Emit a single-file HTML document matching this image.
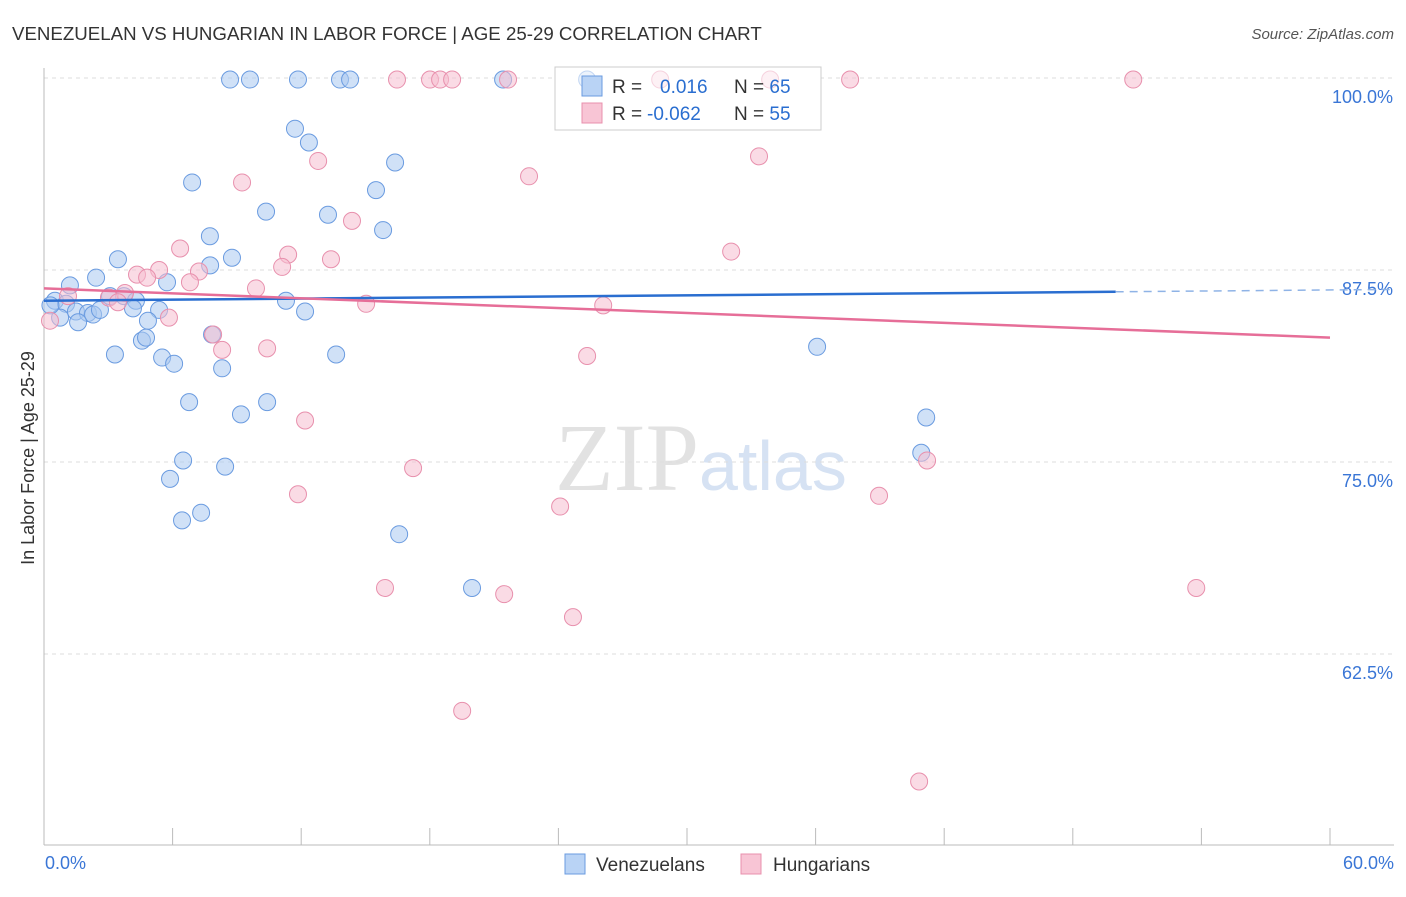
<!DOCTYPE html>
<html><head><meta charset="utf-8"><style>
body{margin:0;background:#fff;font-family:"Liberation Sans",sans-serif}
</style></head><body>
<svg id="chart" width="1406" height="892" xmlns="http://www.w3.org/2000/svg" font-family="Liberation Sans, sans-serif">
<text x="12" y="40" font-size="18.7" fill="#333">VENEZUELAN VS HUNGARIAN IN LABOR FORCE | AGE 25-29 CORRELATION CHART</text>
<text x="1394" y="39" font-size="15" fill="#555" font-style="italic" text-anchor="end">Source: ZipAtlas.com</text>
<text x="555" y="490" font-size="96" fill="#e2e2e2" font-family="Liberation Serif, serif">ZIP<tspan fill="#d6e2f3" font-family="Liberation Sans, sans-serif" font-size="70">atlas</tspan></text>
<g id="grid"></g><g id="axes"></g>
<rect x="555" y="67" width="266" height="63" fill="#fff" stroke="#ccc"/>
<g id="pts"></g><g id="trend"></g>
<text transform="translate(34,458) rotate(-90)" font-size="18" fill="#333" text-anchor="middle">In Labor Force | Age 25-29</text>
<g>
<rect x="555" y="67" width="266" height="63" fill="#fff" fill-opacity="0.6" stroke="#ccc"/>
<rect x="582" y="76" width="20" height="20" fill="#b9d3f5" stroke="#6a9be0"/>
<rect x="582" y="103" width="20" height="20" fill="#f8c5d5" stroke="#e890ad"/>
<text x="612" y="93" font-size="19" fill="#333">R =  <tspan fill="#2a6ed0" x="660">0.016</tspan><tspan x="734" fill="#333">N = </tspan><tspan fill="#2a6ed0">65</tspan></text>
<text x="612" y="120" font-size="19" fill="#333">R = <tspan fill="#2a6ed0" x="647">-0.062</tspan><tspan x="734" fill="#333">N = </tspan><tspan fill="#2a6ed0">55</tspan></text>
</g>
<g>
<rect x="565" y="854" width="20" height="20" fill="#b9d3f5" stroke="#6a9be0"/>
<text x="596" y="871" font-size="19" fill="#333">Venezuelans</text>
<rect x="741" y="854" width="20" height="20" fill="#f8c5d5" stroke="#e890ad"/>
<text x="773" y="871" font-size="19" fill="#333">Hungarians</text>
</g>
</svg>
<script>
const yTicks=[100,87.5,75,62.5];
const yTickLabels=["100.0%","87.5%","75.0%","62.5%"];
const xTickLabels=["0.0%","60.0%"];
const venX=[8.68,9.61,11.85,13.81,14.28,21.42,25.34,11.71,12.36,16.38,6.91,15.49,10.36,13.25,15.82,7.74,3.45,8.77,7.75,2.43,1.21,5.74,0.51,1.03,3.08,3.73,4.29,11.29,4.15,5.37,12.18,1.49,2.05,2.29,2.61,0.75,1.59,4.85,7.84,4.57,4.76,3.31,13.63,5.51,6.07,8.31,36.07,6.77,9.19,10.41,41.16,40.93,6.49,8.45,5.88,7.33,6.44,16.57,19.97,0.3];
const venY=[99.9,99.9,99.9,99.9,99.9,99.9,99.9,96.7,95.8,94.5,93.2,92.7,91.3,91.1,90.1,89.7,88.2,88.3,87.8,87.0,86.5,86.7,85.5,85.3,85.8,85.8,85.5,85.5,85.0,84.9,84.8,84.8,84.7,84.6,84.9,84.4,84.1,84.2,83.3,82.9,83.1,82.0,82.0,81.8,81.4,81.1,82.5,78.9,78.1,78.9,77.9,75.6,75.1,74.7,73.9,71.7,71.2,70.3,66.8,85.2];
const hunX=[16.47,18.01,18.48,19.04,21.65,28.75,33.88,37.61,50.82,33.36,12.79,22.63,9.24,14.37,6.35,32.06,11.39,13.39,11.11,5.37,7.23,4.34,4.81,6.81,9.89,3.78,3.03,1.12,3.45,15.03,26.09,5.83,0.28,7.89,8.31,10.41,25.34,12.18,17.22,41.2,11.85,38.96,24.08,15.91,21.47,53.76,24.68,19.51,40.83];
const hunY=[99.9,99.9,99.9,99.9,99.9,99.9,99.9,99.9,99.9,94.9,94.6,93.6,93.2,90.7,88.9,88.7,88.5,88.2,87.7,87.5,87.4,87.2,87.0,86.7,86.3,86.0,85.7,85.8,85.4,85.3,85.2,84.4,84.2,83.3,82.3,82.4,81.9,77.7,74.6,75.1,72.9,72.8,72.1,66.8,66.4,66.8,64.9,58.8,54.2];
const venTrend=[85.5,86.2];
const hunTrend=[86.3,83.1];
const NS="http://www.w3.org/2000/svg";
const X=v=>44+v*1286/60, Y=v=>78+(100-v)*192/12.5;
function mk(t,a,p){const e=document.createElementNS(NS,t);for(const k in a)e.setAttribute(k,a[k]);p.appendChild(e);return e;}
const g=document.getElementById('grid'),ax=document.getElementById('axes'),pts=document.getElementById('pts'),tr=document.getElementById('trend');
yTicks.forEach((t,i)=>{
 const l=mk('line',{x1:44,x2:1394,y1:Y(t),y2:Y(t),stroke:'#ddd','stroke-dasharray':'4,4'},g);
 
 
 const tx=mk('text',{x:1393,y:Y(t)+25,'font-size':18,fill:'#3a76d6','text-anchor':'end'},g);
 tx.textContent=yTickLabels[i];
 
 
});
const xa=mk('line',{x1:44,x2:1394,y1:845,y2:845,stroke:'#bbb'},ax);


const ya=mk('line',{x1:44,x2:44,y1:68,y2:845,stroke:'#bbb'},ax);


for(let i=1;i<=10;i++){const t=mk('line',{x1:X(i*6),x2:X(i*6),y1:828,y2:845,stroke:'#bbb'},ax);
 
 }
[[0,'start',45],[60,'end',1394]].forEach((d,i)=>{const t=mk('text',{x:d[2],y:869,'font-size':18,fill:'#3a76d6','text-anchor':d[1]},ax);t.textContent=xTickLabels[i];
 
 });
function dots(xs,ys,f,s,n){xs.forEach((x,i)=>{const c=mk('circle',{cx:X(x),cy:Y(ys[i]),r:8.5,fill:f,'fill-opacity':0.55,stroke:s,'stroke-width':1},pts);
 
 });}
dots(venX,venY,'#a9c8f0','#6a9be0','venezuelan-point');
dots(hunX,hunY,'#f6bdd0','#e890ad','hungarian-point');
const b1=mk('line',{x1:X(0),y1:Y(venTrend[0]),x2:X(50),y2:Y(venTrend[0]+(venTrend[1]-venTrend[0])*50/60),stroke:'#2a6ed0','stroke-width':2.5},tr);


const b2=mk('line',{x1:X(50),y1:Y(venTrend[0]+(venTrend[1]-venTrend[0])*50/60),x2:X(63),y2:Y(venTrend[0]+(venTrend[1]-venTrend[0])*63/60),stroke:'#8fb3e6','stroke-width':1.5,'stroke-dasharray':'8,6'},tr);


const p1=mk('line',{x1:X(0),y1:Y(hunTrend[0]),x2:X(60),y2:Y(hunTrend[1]),stroke:'#e66e98','stroke-width':2.5},tr);


</script>
</body></html>
